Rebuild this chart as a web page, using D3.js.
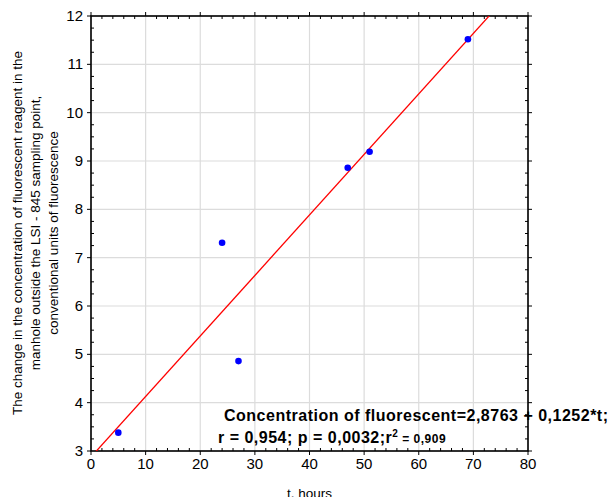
<!DOCTYPE html>
<html>
<head>
<meta charset="utf-8">
<script src="https://cdn.jsdelivr.net/npm/d3@7"></script>
<style>
  body { margin: 0; background: #fff; }
  svg { display: block; font-family: "Liberation Sans", Arial, sans-serif; }
</style>
</head>
<body>
<div id="chart"></div>
<script>
// measured points
var hours = [5, 24, 27, 47, 51, 69];
var conc = [3.38, 7.31, 4.86, 8.86, 9.19, 11.52];
var xTicks = [0, 10, 20, 30, 40, 50, 60, 70, 80];
var yTicks = [3, 4, 5, 6, 7, 8, 9, 10, 11, 12];
var fitA = 2.8763, fitB = 0.1252;

var width = 611, height = 497;
var margin = {top: 16, right: 83, bottom: 46, left: 91};
var w = width - margin.left - margin.right;
var h = height - margin.top - margin.bottom;

var svg = d3.select('#chart').append('svg')
  .attr('width', width)
  .attr('height', height);

var g = svg.append('g').attr('transform', 'translate(' + margin.left + ',' + margin.top + ')');

var x = d3.scaleLinear().domain([0, 80]).range([0, w]);
var y = d3.scaleLinear().domain([3, 12]).range([h, 0]);

// grid
g.append('g').selectAll('line.gx')
  .data(xTicks).enter().append('line')
  .attr('x1', function(d) { return x(d); }).attr('x2', function(d) { return x(d); })
  .attr('y1', 0).attr('y2', h)
  .attr('stroke', '#dcdcdc').attr('stroke-width', 1.2);
g.append('g').selectAll('line.gy')
  .data(yTicks).enter().append('line')
  .attr('y1', function(d) { return y(d); }).attr('y2', function(d) { return y(d); })
  .attr('x1', 0).attr('x2', w)
  .attr('stroke', '#dcdcdc').attr('stroke-width', 1.2);

// minor ticks on all sides, pointing inward
var xMinor = d3.range(0, 81, 2);
var yMinor = d3.range(3, 12.001, 0.25);
var ticks = g.append('g').attr('stroke', '#000').attr('stroke-width', 1);
ticks.selectAll('line.xb').data(xMinor).enter().append('line')
  .attr('x1', function(d) { return x(d); }).attr('x2', function(d) { return x(d); })
  .attr('y1', h).attr('y2', function(d) { return d % 10 === 0 ? h + 4 : h - 3; });
ticks.selectAll('line.xt').data(xMinor).enter().append('line')
  .attr('x1', function(d) { return x(d); }).attr('x2', function(d) { return x(d); })
  .attr('y1', 0).attr('y2', function(d) { return d % 10 === 0 ? -4 : 3; });
ticks.selectAll('line.yl').data(yMinor).enter().append('line')
  .attr('y1', function(d) { return y(d); }).attr('y2', function(d) { return y(d); })
  .attr('x1', 0).attr('x2', function(d) { return Math.abs(d - Math.round(d)) < 1e-6 ? -4 : 3; });
ticks.selectAll('line.yr').data(yMinor).enter().append('line')
  .attr('y1', function(d) { return y(d); }).attr('y2', function(d) { return y(d); })
  .attr('x1', w).attr('x2', function(d) { return Math.abs(d - Math.round(d)) < 1e-6 ? w + 4 : w - 3; });

// frame
g.append('rect')
  .attr('width', w).attr('height', h)
  .attr('fill', 'none').attr('stroke', '#000').attr('stroke-width', 1.6);

// tick labels
g.append('g').selectAll('text')
  .data(xTicks).enter().append('text')
  .attr('x', function(d) { return x(d); })
  .attr('y', h + 17.5)
  .attr('text-anchor', 'middle')
  .attr('font-size', 15)
  .text(function(d) { return d; });
g.append('g').selectAll('text')
  .data(yTicks).enter().append('text')
  .attr('x', -8)
  .attr('y', function(d) { return y(d) + 5; })
  .attr('text-anchor', 'end')
  .attr('font-size', 15)
  .text(function(d) { return d; });

// fit line, clipped to plot
svg.append('clipPath').attr('id', 'clip')
  .append('rect').attr('width', w).attr('height', h);
var line = d3.line()
  .x(function(d) { return x(d); })
  .y(function(d) { return y(fitA + fitB * d); });
g.append('path')
  .datum([0, 80])
  .attr('clip-path', 'url(#clip)')
  .attr('d', line)
  .attr('fill', 'none')
  .attr('stroke', '#ff0000')
  .attr('stroke-width', 1.3);

// points
g.append('g').selectAll('circle')
  .data(hours).enter().append('circle')
  .attr('cx', function(d) { return x(d); })
  .attr('cy', function(d, i) { return y(conc[i]); })
  .attr('r', 3.3)
  .attr('fill', '#0000ff');

// axis titles
svg.append('text')
  .attr('x', x(40) + margin.left)
  .attr('y', 498)
  .attr('text-anchor', 'middle')
  .attr('font-size', 13.5)
  .text('t, hours');

var yTitle = ['The change in the concentration of fluorescent reagent in the',
  'manhole outside the LSI - 845 sampling point,',
  'conventional units of fluorescence'];
svg.append('g')
  .attr('transform', 'translate(22,233) rotate(-90)')
  .selectAll('text').data(yTitle).enter().append('text')
  .attr('x', 0)
  .attr('y', function(d, i) { return i * 18; })
  .attr('text-anchor', 'middle')
  .attr('font-size', 13.5)
  .text(function(d) { return d; });

// regression annotation
svg.append('text')
  .attr('x', 224).attr('y', 421)
  .attr('font-size', 16).attr('font-weight', 'bold')
  .attr('letter-spacing', 0.5)
  .text('Concentration of fluorescent=2,8763 + 0,1252*t;');
var t2 = svg.append('text')
  .attr('x', 218).attr('y', 443)
  .attr('font-size', 16).attr('font-weight', 'bold')
  .attr('letter-spacing', 0.5);
t2.append('tspan').text('r = 0,954; p = 0,0032;r');
t2.append('tspan').attr('font-size', 10).attr('dy', -6).text('2');
t2.append('tspan').attr('font-size', 12).attr('dy', 6).text(' = 0,909');
</script>
</body>
</html>
